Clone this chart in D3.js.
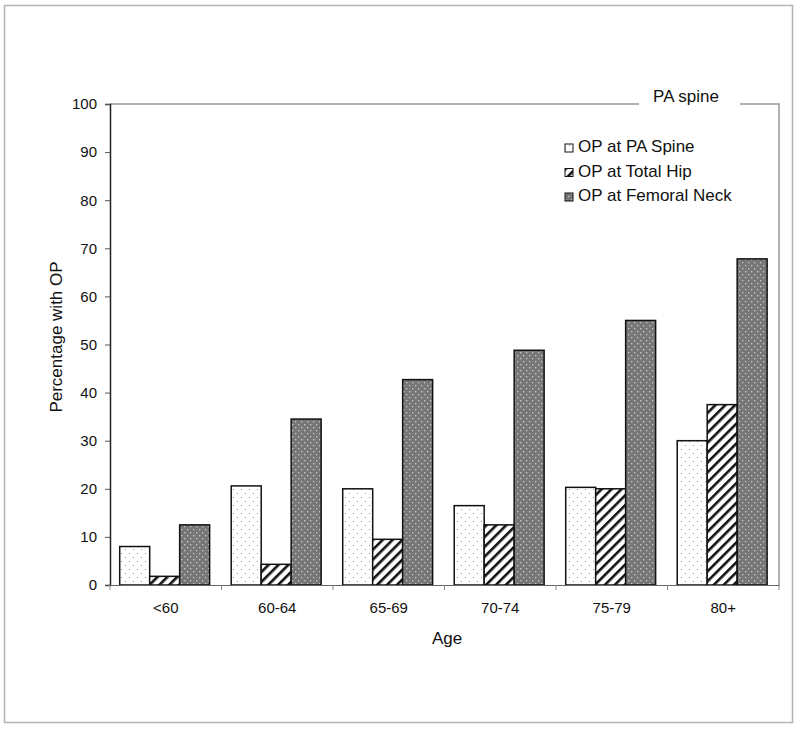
<!DOCTYPE html>
<html>
<head>
<meta charset="utf-8">
<script src="https://cdn.jsdelivr.net/npm/d3@7"></script>
<style>
  body { margin: 0; background: #fff; }
  svg { display: block; font-family: "Liberation Sans", Arial, sans-serif; }
</style>
</head>
<body>
<svg id="chart" width="800" height="730"></svg>
<script>
const categories = ["<60", "60-64", "65-69", "70-74", "75-79", "80+"];
const seriesNames = ["OP at PA Spine", "OP at Total Hip", "OP at Femoral Neck"];
const spineValues = [8, 20.6, 20, 16.5, 20.3, 30];
const hipValues = [1.8, 4.3, 9.5, 12.5, 20, 37.5];
const neckValues = [12.5, 34.5, 42.7, 48.8, 55, 67.8];
const yTicks = [0, 10, 20, 30, 40, 50, 60, 70, 80, 90, 100];

const series = [spineValues, hipValues, neckValues];

const svg = d3.select("#chart");
const margin = {left: 110, top: 104, right: 779, bottom: 585};

// outer frame
svg.append("rect").attr("x", 4.5).attr("y", 5.5).attr("width", 788).attr("height", 717)
  .attr("fill", "none").attr("stroke", "#b3b3b3").attr("stroke-width", 1.5);

// patterns
const defs = svg.append("defs");
const pSpine = defs.append("pattern").attr("id", "pSpine").attr("patternUnits", "userSpaceOnUse")
  .attr("width", 8).attr("height", 8);
pSpine.append("rect").attr("width", 8).attr("height", 8).attr("fill", "#fff");
pSpine.append("rect").attr("x", 1).attr("y", 1).attr("width", 1).attr("height", 1).attr("fill", "#999");
pSpine.append("rect").attr("x", 5).attr("y", 5).attr("width", 1).attr("height", 1).attr("fill", "#999");

const pHip = defs.append("pattern").attr("id", "pHip").attr("patternUnits", "userSpaceOnUse")
  .attr("width", 7).attr("height", 7).attr("patternTransform", "rotate(45)");
pHip.append("rect").attr("width", 7).attr("height", 7).attr("fill", "#fff");
pHip.append("rect").attr("x", 0).attr("y", 0).attr("width", 2.6).attr("height", 7).attr("fill", "#111");

const pNeck = defs.append("pattern").attr("id", "pNeck").attr("patternUnits", "userSpaceOnUse")
  .attr("width", 6).attr("height", 6);
pNeck.append("rect").attr("width", 6).attr("height", 6).attr("fill", "#777");
pNeck.append("rect").attr("x", 1).attr("y", 1).attr("width", 1.3).attr("height", 1.3).attr("fill", "#c8c8c8");
pNeck.append("rect").attr("x", 4).attr("y", 4).attr("width", 1.3).attr("height", 1.3).attr("fill", "#c8c8c8");

const fills = ["url(#pSpine)", "url(#pHip)", "url(#pNeck)"];

const x = d3.scaleBand().domain(categories).range([margin.left, margin.right]).paddingInner(0).paddingOuter(0);
const xInner = d3.scaleBand().domain(d3.range(3)).range([0, x.bandwidth()])
  .paddingOuter(0.36).paddingInner(0).align(0.45);
const y = d3.scaleLinear().domain([0, 100]).range([margin.bottom, margin.top]);

// top and right border of plot (gray) with gap for title
svg.append("path")
  .attr("d", `M${margin.left},${margin.top}H639 M740,${margin.top}H${margin.right}V${margin.bottom}`)
  .attr("fill", "none").attr("stroke", "#999").attr("stroke-width", 1.5);
svg.append("text").attr("x", 686).attr("y", 98).attr("text-anchor", "middle")
  .attr("font-size", 17).attr("fill", "#111").attr("dominant-baseline", "middle").text("PA spine");

// bars
categories.forEach((c, i) => {
  series.forEach((vals, s) => {
    svg.append("rect")
      .attr("x", x(c) + xInner(s))
      .attr("y", y(vals[i]))
      .attr("width", xInner.bandwidth())
      .attr("height", y(0) - y(vals[i]))
      .attr("fill", fills[s])
      .attr("stroke", "#111").attr("stroke-width", 1.5);
  });
});

// y axis
const yAxis = svg.append("g").attr("transform", `translate(${margin.left},0)`)
  .call(d3.axisLeft(y).tickValues(yTicks).tickSize(5).tickPadding(8));
yAxis.select(".domain").attr("stroke", "#222").attr("stroke-width", 1.5);
yAxis.selectAll(".tick line").attr("stroke", "#555");
yAxis.selectAll(".tick text").attr("font-size", 15).attr("fill", "#111")
  .attr("font-family", "Liberation Sans, Arial, sans-serif");

// x axis
const xAxis = svg.append("g").attr("transform", `translate(0,${margin.bottom})`)
  .call(d3.axisBottom(x).tickSize(0).tickPadding(17));
xAxis.select(".domain").attr("stroke", "#666").attr("stroke-width", 1.2);
xAxis.selectAll(".tick text").attr("font-size", 15).attr("fill", "#111")
  .attr("font-family", "Liberation Sans, Arial, sans-serif");
const bounds = categories.map(c => x(c)).concat([margin.right]);
svg.append("g").selectAll("line").data(bounds).join("line")
  .attr("x1", d => d).attr("x2", d => d)
  .attr("y1", margin.bottom).attr("y2", margin.bottom + 5)
  .attr("stroke", "#888").attr("stroke-width", 1);

// axis titles
svg.append("text").attr("x", 447).attr("y", 644).attr("text-anchor", "middle")
  .attr("font-size", 17).attr("fill", "#111").text("Age");
svg.append("text").attr("transform", "translate(62,337) rotate(-90)").attr("text-anchor", "middle")
  .attr("font-size", 17).attr("fill", "#111").text("Percentage with OP");

// legend
const legend = svg.append("g");
seriesNames.forEach((n, i) => {
  const ly = 148 + i * 24.5;
  legend.append("rect").attr("x", 565).attr("y", ly - 4).attr("width", 8).attr("height", 8)
    .attr("fill", fills[i]).attr("stroke", "#111").attr("stroke-width", 1);
  legend.append("text").attr("x", 578).attr("y", ly).attr("dominant-baseline", "middle")
    .attr("font-size", 17).attr("fill", "#111").text(n);
});
</script>
</body>
</html>
